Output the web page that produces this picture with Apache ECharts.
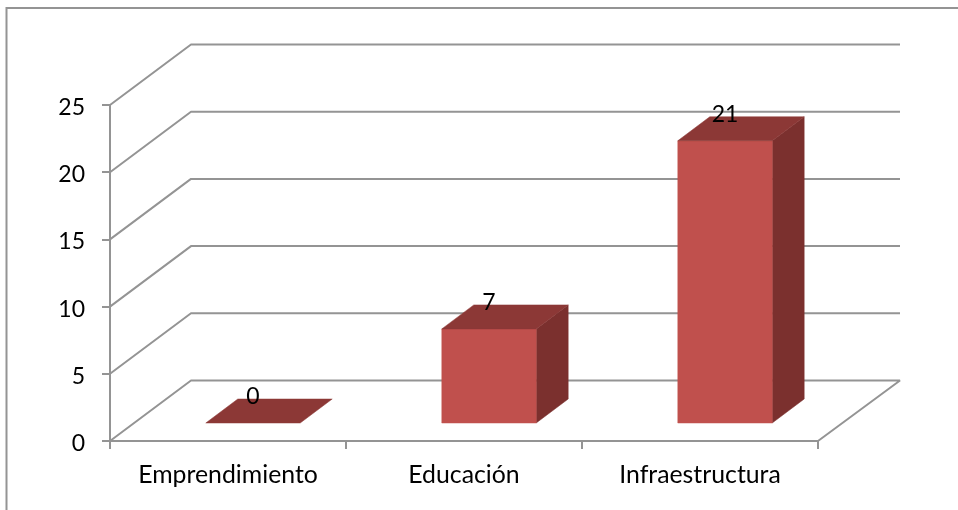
<!DOCTYPE html>
<html>
<head>
<meta charset="utf-8">
<style>html,body{margin:0;padding:0;background:#fff}#c{width:958px;height:510px}</style>
<script src="https://cdn.jsdelivr.net/npm/echarts@6/dist/echarts.min.js"></script>
</head>
<body>
<div id="c"></div>
<script>
const categories = ['Emprendimiento', 'Educación', 'Infraestructura'];
const values = [0, 7, 21];
const yTicks = [0, 5, 10, 15, 20, 25];

const FONT = 'Lato';
const GREY = '#949494';
const LINE_W = 2;
const WALL_DX = 81, WALL_DY = -60.5;
const BAR_DX = 32, BAR_DY = -24;
const BASE_DX = 25, BASE_DY = -18;
const BAR_W = 0.4;

const chart = echarts.init(document.getElementById('c'), null, {renderer: 'canvas'});

function renderWall(params, api) {
  const v = api.value(1);
  const catW = api.size([1, 0])[0];
  const p = api.coord([0, v]);
  const x0 = p[0] - catW / 2, y0 = p[1];
  const x1 = x0 + catW * categories.length;
  const pts = [[x0, y0], [x0 + WALL_DX, y0 + WALL_DY], [x1 + WALL_DX + 1, y0 + WALL_DY]];
  if (v === 0) pts.push([x1, y0]);
  return {
    type: 'polyline',
    shape: {points: pts},
    style: {stroke: GREY, lineWidth: LINE_W, fill: null, lineJoin: 'bevel'},
    silent: true
  };
}

function renderBar(params, api) {
  const idx = api.value(0), v = api.value(1);
  const catW = api.size([1, 0])[0];
  const w = catW * BAR_W;
  const c0 = api.coord([idx, 0]), c1 = api.coord([idx, v]);
  const xl = c0[0] + BASE_DX - w / 2, xr = xl + w;
  const yb = c0[1] + BASE_DY, yt = c1[1] + BASE_DY;
  const face = (pts, fill) => ({
    type: 'polygon',
    shape: {points: pts},
    style: {fill: fill, stroke: fill, lineWidth: 0.5}
  });
  const children = [];
  if (v > 0) {
    children.push(face([[xr, yb], [xr + BAR_DX, yb + BAR_DY], [xr + BAR_DX, yt + BAR_DY], [xr, yt]], '#7b302e'));
    children.push(face([[xl, yb], [xr, yb], [xr, yt], [xl, yt]], '#c0504d'));
  }
  children.push(face([[xl, yt], [xr, yt], [xr + BAR_DX, yt + BAR_DY], [xl + BAR_DX, yt + BAR_DY]], '#8c3836'));
  children.push({
    type: 'text',
    z2: 10,
    style: {
      text: String(v), x: (xl + xr) / 2, y: yt - 26,
      align: 'center', verticalAlign: 'middle',
      font: '23px ' + FONT, fill: '#000'
    }
  });
  return {type: 'group', children: children};
}

chart.setOption({
  animation: false,
  graphic: [{
    type: 'polyline',
    shape: {points: [[6.5, 512], [6.5, 8], [960, 8]]},
    style: {stroke: GREY, lineWidth: LINE_W, fill: null},
    silent: true
  }],
  grid: {left: 110, top: 105, width: 708, height: 336},
  xAxis: {
    type: 'category',
    data: categories,
    axisLine: {show: true, lineStyle: {color: GREY, width: LINE_W}},
    axisTick: {show: true, alignWithLabel: false, length: 8, lineStyle: {color: GREY, width: LINE_W}},
    axisLabel: {color: '#000', fontFamily: FONT, fontSize: 24.8, margin: 22, interval: 0},
    splitLine: {show: false}
  },
  yAxis: {
    type: 'value',
    min: 0, max: 25, interval: 5,
    axisLine: {show: true, lineStyle: {color: GREY, width: LINE_W}},
    axisTick: {show: true, length: 8, lineStyle: {color: GREY, width: LINE_W}},
    axisLabel: {color: '#000', fontFamily: FONT, fontSize: 23, margin: 25, verticalAlign: 'top', lineHeight: 5},
    splitLine: {show: false}
  },
  series: [
    {type: 'custom', coordinateSystem: 'cartesian2d', renderItem: renderWall,
     data: yTicks.map(v => [0, v]), encode: {x: 0, y: 1}, clip: false, z: 1, silent: true},
    {type: 'custom', coordinateSystem: 'cartesian2d', renderItem: renderBar,
     data: values.map((v, i) => [i, v]), encode: {x: 0, y: 1}, clip: false, z: 3, silent: true}
  ]
});
</script>
</body>
</html>
